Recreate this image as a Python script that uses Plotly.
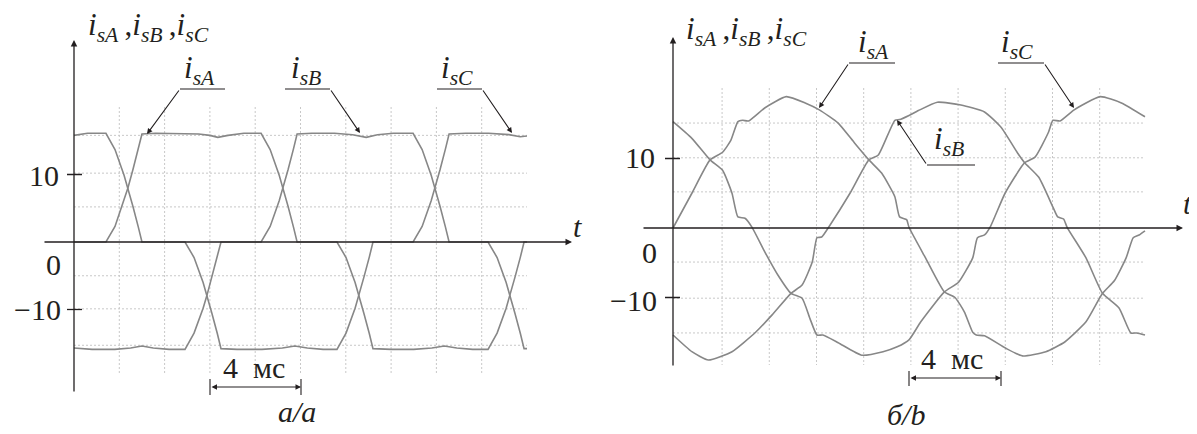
import plotly.graph_objects as go

# ---------------- data (time in ms, current in A) ----------------
# panel a: rectangular-ish currents with commutation overlap
ta_A = [0, 1.41, 1.81, 2.21, 2.38, 2.60, 2.84, 3.00, 3.6, 4.6, 5.5, 6.0, 6.35, 6.8, 7.5, 8.26,
        8.66, 9.06, 9.23, 9.45, 9.69, 9.85, 11.61, 12.01, 12.41, 12.58, 12.80, 13.04, 13.20,
        14.0, 15.0, 15.8, 16.35, 16.9, 17.6, 18.28, 18.68, 19.08, 19.25, 19.47, 19.71, 19.87, 20]
ia_A = [0, 0, 2.3, 6.1, 8.0, 10.7, 13.8, 16.0, 16.1, 16.1, 16.0, 15.8, 15.5, 15.8, 16.1, 16.1,
        13.7, 9.9, 8.0, 5.3, 2.2, 0, 0, -2.3, -6.0, -7.9, -10.6, -13.6, -15.8,
        -15.9, -15.9, -15.7, -15.4, -15.7, -15.9, -15.9, -13.5, -9.8, -7.9, -5.2, -2.2, 0, 0]

ta_B = [0, 0.8, 1.8, 2.5, 3.0, 3.5, 4.2, 4.90, 5.30, 5.70, 5.87, 6.09, 6.33, 6.49, 8.26, 8.66,
        9.06, 9.23, 9.45, 9.69, 9.85, 10.5, 11.5, 12.3, 12.9, 13.4, 14.1, 14.97, 15.37, 15.77,
        15.94, 16.16, 16.40, 16.56, 18.28, 18.68, 19.08, 19.25, 19.47, 19.71, 19.87, 20]
ia_B = [-15.7, -15.9, -15.9, -15.7, -15.4, -15.7, -15.9, -15.9, -13.5, -9.8, -7.9, -5.2, -2.2, 0, 0, 2.3,
        6.1, 8.0, 10.7, 13.8, 16.0, 16.1, 16.1, 15.9, 15.5, 15.9, 16.1, 16.1, 13.7, 9.9,
        8.0, 5.3, 2.2, 0, 0, -2.3, -6.0, -7.9, -10.6, -13.6, -15.8, -15.8]

ta_C = [0, 0.6, 1.41, 1.81, 2.21, 2.38, 2.60, 2.84, 3.00, 4.90, 5.30, 5.70, 5.87, 6.09, 6.33, 6.49,
        7.2, 8.3, 9.2, 9.75, 10.3, 11.0, 11.61, 12.01, 12.41, 12.58, 12.80, 13.04, 13.20, 14.97,
        15.37, 15.77, 15.94, 16.16, 16.40, 16.56, 17.3, 18.3, 19.2, 19.7, 20]
ia_C = [15.8, 16.1, 16.1, 13.7, 9.9, 8.0, 5.3, 2.2, 0, 0, -2.3, -6.0, -7.9, -10.6, -13.6, -15.8,
        -15.9, -15.9, -15.7, -15.4, -15.7, -15.9, -15.9, -13.5, -9.8, -7.9, -5.2, -2.2, 0, 0,
        2.3, 6.1, 8.0, 10.7, 13.8, 16.0, 16.1, 16.1, 15.9, 15.6, 15.7]

# panel b: quasi-sinusoidal currents
tb_A = [0, 0.8, 1.57, 2.1, 2.45, 2.75, 2.95, 3.2, 3.9, 4.8, 5.6, 6.2, 7.0, 7.7, 8.3, 8.84, 9.4,
        9.6, 9.9, 10.0, 10.7, 11.5, 11.95, 12.35, 12.7, 12.85, 13.2, 14.1, 14.8, 15.8, 16.6,
        17.5, 18.2, 18.7, 19.2, 19.5, 19.75, 20]
ib_A = [0, 5.0, 9.8, 10.9, 12.6, 15.3, 15.5, 15.4, 17.3, 18.9, 18.0, 17.0, 15.1, 12.2, 9.8, 7.9, 4.5,
        1.6, 1.2, 0.1, -4.3, -9.2, -10.0, -12.1, -15.0, -15.4, -15.5, -17.3, -18.4, -17.8, -16.4,
        -13.5, -9.4, -7.6, -4.3, -1.4, -1.0, -0.4]

tb_B = [0, 0.8, 1.5, 2.5, 3.5, 4.2, 5.0, 5.47, 5.9, 6.1, 6.3, 6.65, 7.5, 8.3, 8.7, 9.4, 9.6,
        10.0, 10.4, 11.2, 12.2, 13.2, 13.9, 14.6, 14.9, 15.5, 16.1, 16.3, 16.55, 16.7, 17.5,
        18.2, 18.9, 19.4, 19.65, 20]
ib_B = [-15.4, -17.8, -19.0, -17.8, -15.0, -12.5, -9.4, -8.2, -4.9, -1.4, -1.3, 0.4, 5.0, 9.8, 10.5, 15.5, 15.6,
        16.2, 16.9, 18.1, 17.7, 16.7, 14.5, 10.8, 9.4, 7.3, 3.0, 1.6, 1.3, 0.1, -4.3,
        -9.4, -11.5, -15.1, -15.1, -15.4]

tb_C = [0, 0.8, 1.57, 2.1, 2.5, 2.75, 3.05, 3.35, 3.9, 4.45, 5.0, 5.47, 5.8, 6.1, 6.35, 7.0, 8.0,
        8.9, 9.5, 10.0, 10.5, 11.5, 12.1, 12.7, 12.9, 13.2, 13.45, 14.07, 14.9, 15.34, 15.9,
        16.1, 16.4, 17.0, 18.1, 19.0, 20]
ib_C = [15.3, 12.9, 9.8, 8.3, 5.0, 1.6, 1.4, 0.1, -3.5, -6.8, -9.4, -10.1, -13.0, -15.4, -15.4, -16.5, -18.3,
        -17.8, -17.1, -16.1, -13.5, -9.2, -7.8, -4.3, -1.4, -1.0, 0.2, 5.0, 9.4, 10.2, 13.7,
        15.5, 15.4, 17.0, 18.9, 18.0, 16.0]

grid_t = [2, 4, 6, 8, 10, 12, 14, 16, 18]
grid_i_a = [15.8, 10.2, 5.2, -5.0, -9.9, -15.3]
grid_i_b = [15.1, 10.1, 5.2, -4.9, -10.1, -15.1]

# the page body keeps its default 8px margin, so the figure is 8px smaller
OFF = 8
W, H = 1197 - OFF, 434 - OFF
FONT = "Liberation Serif, Times New Roman, serif"
INK = "#231f20"
CURVE = "#878787"
GRID = "#c8c8c8"


# screen pixel -> data helpers for the two panels
def pa(x, y):
    return (x - 74) / 22.65, (242 - y) / 6.75


def pb(x, y):
    return (x - 673) / 23.6, (228 - y) / 6.95


fig = go.Figure()

for t, i in [(ta_A, ia_A), (ta_B, ia_B), (ta_C, ia_C)]:
    fig.add_trace(go.Scatter(x=t, y=i, mode="lines", xaxis="x", yaxis="y",
                             line=dict(color=CURVE, width=1.6), hoverinfo="skip"))
for t, i in [(tb_A, ib_A), (tb_B, ib_B), (tb_C, ib_C)]:
    fig.add_trace(go.Scatter(x=t, y=i, mode="lines", xaxis="x2", yaxis="y2",
                             line=dict(color=CURVE, width=1.6, shape="spline", smoothing=0.5),
                             hoverinfo="skip"))

shapes = []
annotations = []


def line(xr, yr, x0, y0, x1, y1, color=INK, width=1.2, dash=None, layer="above"):
    d = dict(type="line", xref=xr, yref=yr, x0=x0, y0=y0, x1=x1, y1=y1,
             line=dict(color=color, width=width), layer=layer)
    if dash:
        d["line"]["dash"] = dash
    shapes.append(d)


def arrow(xr, yr, tip, tail, width=1.2, side="end", head=2, size=1.0):
    annotations.append(dict(xref=xr, yref=yr, axref=xr, ayref=yr, x=tip[0], y=tip[1],
                            ax=tail[0], ay=tail[1], text="", showarrow=True,
                            arrowhead=head, startarrowhead=head, arrowside=side,
                            arrowsize=size, startarrowsize=size,
                            arrowwidth=width, arrowcolor=INK, standoff=0, startstandoff=0))


def text(xr, yr, pos, s, xanchor="center", size=30, italic=False):
    if italic:
        s = "<i>" + s + "</i>"
    annotations.append(dict(xref=xr, yref=yr, x=pos[0], y=pos[1], text=s, showarrow=False,
                            xanchor=xanchor, yanchor="middle",
                            font=dict(family=FONT, size=size, color=INK)))


def isub(k):
    return "<i>i<sub>s" + k + "</sub></i>"


title_lbl = isub("A") + "\u2009," + isub("B") + "\u2009," + isub("C")

# ---------- panel a ----------
xr, yr = "x", "y"
for g in grid_t:
    line(xr, yr, g, pa(0, 107)[1], g, pa(0, 375)[1], color=GRID, width=1, dash="2px,2px", layer="below")
for g in grid_i_a:
    line(xr, yr, 0, g, 20, g, color=GRID, width=1, dash="2px,2px", layer="below")
arrow(xr, yr, pa(74, 40), pa(74, 393), width=1.3)
arrow(xr, yr, pa(572, 242), pa(43, 242), width=1.3)
for yy in (10, -10):
    line(xr, yr, pa(67, 0)[0], yy, pa(82, 0)[0], yy, width=1.3)
text(xr, yr, pa(61, 175), "10", xanchor="right")
text(xr, yr, pa(63, 264), "0", xanchor="right")
text(xr, yr, pa(63, 309), "\u221210", xanchor="right")
text(xr, yr, pa(577, 226), "t", italic=True)
text(xr, yr, pa(86, 27), title_lbl, xanchor="left", size=31)
for lbl, lx, ul0, ul1, tail, tip in [("A", 182, 180, 225, (180, 89), (147, 134)),
                                     ("B", 289, 285, 330, (330, 89), (360, 133)),
                                     ("C", 439, 437, 482, (482, 89), (512, 133))]:
    text(xr, yr, pa(lx, 70), isub(lbl), xanchor="left", size=31)
    line(xr, yr, *pa(ul0, 89), *pa(ul1, 89), width=1.1)
    arrow(xr, yr, pa(*tip), pa(*tail), width=1.1)
text(xr, yr, pa(221, 367), "4\u00a0\u00a0мс", xanchor="left")
arrow(xr, yr, pa(301, 387), pa(210, 387), width=1.1, side="end+start")
for xx in (210, 301):
    line(xr, yr, *pa(xx, 379), *pa(xx, 395), width=1.1)
text(xr, yr, pa(297, 411), "а/a", italic=True)

# ---------- panel b ----------
xr, yr = "x2", "y2"
for g in grid_t:
    line(xr, yr, g + 0.08, pb(0, 88)[1], g + 0.08, pb(0, 365)[1], color=GRID, width=1, dash="2px,2px", layer="below")
for g in grid_i_b:
    line(xr, yr, 0, g, 20, g, color=GRID, width=1, dash="2px,2px", layer="below")
arrow(xr, yr, pb(673, 37), pb(673, 367), width=1.3)
arrow(xr, yr, pb(1183, 228), pb(642, 228), width=1.3)
for yy in (10, -10):
    line(xr, yr, pb(665, 0)[0], yy, pb(680, 0)[0], yy, width=1.3)
text(xr, yr, pb(657, 157), "10", xanchor="right")
text(xr, yr, pb(659, 252), "0", xanchor="right")
text(xr, yr, pb(659, 300), "\u221210", xanchor="right")
text(xr, yr, pb(1187, 203), "t", italic=True)
text(xr, yr, pb(684, 31), title_lbl, xanchor="left", size=31)
for lbl, lx, ly, ul0, ul1, uy, tail, tip in [("A", 856, 44, 849, 895, 63, (849, 63), (819, 108)),
                                             ("B", 932, 141, 927, 975, 165, (927, 165), (897, 120)),
                                             ("C", 999, 44, 998, 1044, 63, (1044, 63), (1074, 108))]:
    text(xr, yr, pb(lx, ly), isub(lbl), xanchor="left", size=31)
    line(xr, yr, *pb(ul0, uy), *pb(ul1, uy), width=1.1)
    arrow(xr, yr, pb(*tip), pb(*tail), width=1.1)
text(xr, yr, pb(919, 358), "4\u00a0\u00a0мс", xanchor="left")
arrow(xr, yr, pb(1001, 378), pb(909, 378), width=1.1, side="end+start")
for xx in (909, 1001):
    line(xr, yr, *pb(xx, 371), *pb(xx, 386), width=1.1)
text(xr, yr, pb(906, 414), "б/b", italic=True)

split = (598.5 - OFF) / W
ax_common = dict(visible=False, showgrid=False, zeroline=False, fixedrange=True)
fig.update_layout(
    width=W, height=H,
    margin=dict(l=0, r=0, t=0, b=0),
    paper_bgcolor="white", plot_bgcolor="white",
    showlegend=False,
    xaxis=dict(domain=[0, split], range=[pa(OFF, 0)[0], pa(598.5, 0)[0]], anchor="y", **ax_common),
    yaxis=dict(domain=[0, 1], range=[pa(0, 434)[1], pa(0, OFF)[1]], anchor="x", **ax_common),
    xaxis2=dict(domain=[split, 1], range=[pb(598.5, 0)[0], pb(1197, 0)[0]], anchor="y2", **ax_common),
    yaxis2=dict(domain=[0, 1], range=[pb(0, 434)[1], pb(0, OFF)[1]], anchor="x2", **ax_common),
    shapes=shapes,
    annotations=annotations,
)

fig.write_html("out.html")
